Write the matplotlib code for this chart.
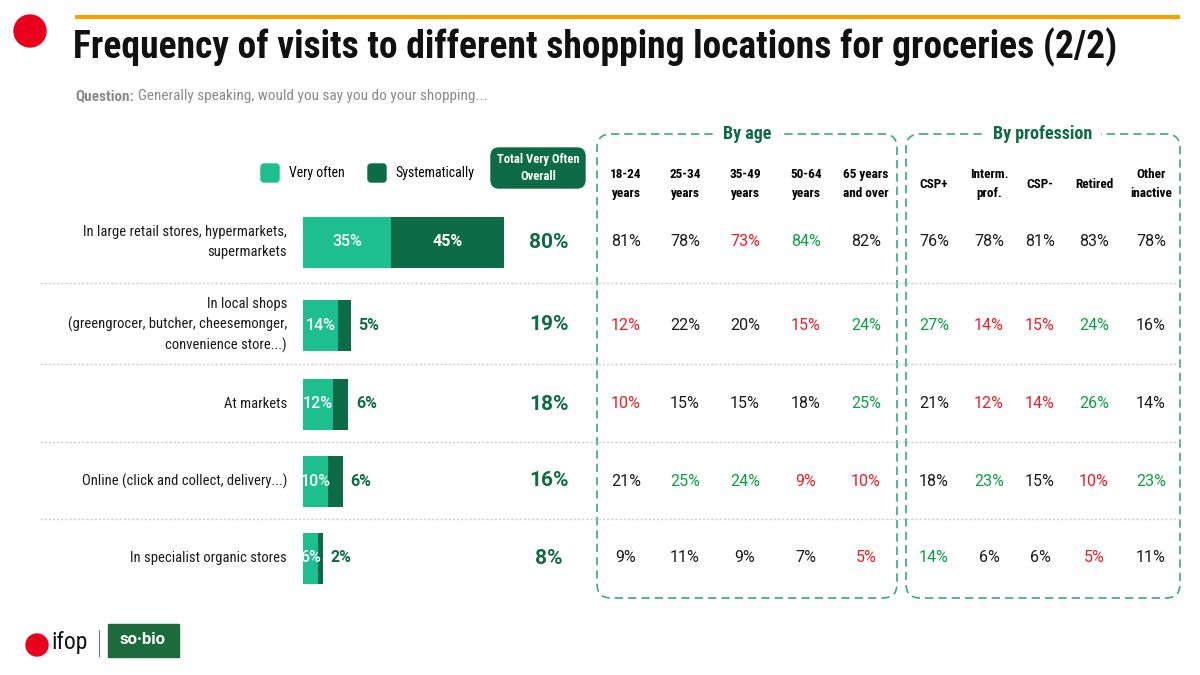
import matplotlib
matplotlib.use("Agg")
import matplotlib.pyplot as plt
from matplotlib.patches import FancyBboxPatch, Circle, Rectangle

# data
categories = [
    "In large retail stores, hypermarkets,\nsupermarkets",
    "In local shops\n(greengrocer, butcher, cheesemonger,\nconvenience store...)",
    "At markets",
    "Online (click and collect, delivery...)",
    "In specialist organic stores",
]
very_often = [35, 14, 12, 10, 6]
systematically = [45, 5, 6, 6, 2]
total_overall = [80, 19, 18, 16, 8]

age_labels = ["18-24\nyears", "25-34\nyears", "35-49\nyears", "50-64\nyears", "65 years\nand over"]
age_values = [
    [81, 78, 73, 84, 82],
    [12, 22, 20, 15, 24],
    [10, 15, 15, 18, 25],
    [21, 25, 24, 9, 10],
    [9, 11, 9, 7, 5],
]
age_signif = [
    ["", "", "-", "+", ""],
    ["-", "", "", "-", "+"],
    ["-", "", "", "", "+"],
    ["", "+", "+", "-", "-"],
    ["", "", "", "", "-"],
]
prof_labels = ["CSP+", "Interm.\nprof.", "CSP-", "Retired", "Other\ninactive"]
prof_values = [
    [76, 78, 81, 83, 78],
    [27, 14, 15, 24, 16],
    [21, 12, 14, 26, 14],
    [18, 23, 15, 10, 23],
    [14, 6, 6, 5, 11],
]
prof_signif = [
    ["", "", "", "", ""],
    ["+", "-", "-", "+", ""],
    ["", "-", "-", "+", ""],
    ["", "+", "", "-", "+"],
    ["+", "", "", "-", ""],
]

# style
LIGHT = "#1dbf8f"
DARK = "#0d6b47"
TXT_GREEN = "#0e6b44"
BOX_GREEN = "#3aa97f"
RED = "#ee1c25"
GREEN = "#08a045"
NARROW = ["Roboto Condensed", "DejaVu Sans"]
plt.rcParams["font.family"] = ["Roboto", "DejaVu Sans"]
sig_color = {"": "#1a1a1a", "+": GREEN, "-": RED}

W, H = 1200, 675
fig = plt.figure(figsize=(12, 6.75), dpi=100)
ax = fig.add_axes([0, 0, 1, 1])
ax.set_xlim(0, W)
ax.set_ylim(H, 0)
ax.axis("off")

row_y = [242, 325, 404, 481, 558]
sep_y = [283, 364, 442, 519]
age_x = [626, 685, 745, 806, 866]
prof_x = [934, 989, 1040, 1094, 1151]

# header
ax.add_patch(Circle((30, 31), 16, color="#e8001c"))
ax.plot([75, 1180], [17, 17], color="#f5a300", lw=3, solid_capstyle="butt")
ax.text(73, 47, "Frequency of visits to different shopping locations for groceries (2/2)",
        fontsize=27, fontweight="bold", family=NARROW, va="center", ha="left", color="#111111")
ax.text(75, 96, "Question:", fontsize=11, fontweight="bold", family=NARROW,
        color="#8a8a8a", va="center")
ax.text(138, 96, "Generally speaking, would you say you do your shopping...", fontsize=11,
        family=NARROW, color="#8a8a8a", va="center")

# legend
ax.add_patch(FancyBboxPatch((261, 164), 18, 18, boxstyle="round,pad=0,rounding_size=3",
                            color=LIGHT))
ax.text(289, 173, "Very often", fontsize=10, family=NARROW, va="center")
ax.add_patch(FancyBboxPatch((368, 164), 18, 18, boxstyle="round,pad=0,rounding_size=3",
                            color=DARK))
ax.text(395, 173, "Systematically", fontsize=10, family=NARROW, va="center")
ax.add_patch(FancyBboxPatch((491, 148), 94, 40, boxstyle="round,pad=0,rounding_size=8",
                            color=DARK))
ax.text(538, 168, "Total Very Often\nOverall", fontsize=9, fontweight="bold", family=NARROW,
        color="white", ha="center", va="center", linespacing=1.45)

# dashed group boxes
for x0, x1, title in [(597, 897, "By age"), (906, 1180, "By profession")]:
    ax.add_patch(FancyBboxPatch((x0, 134), x1 - x0, 464,
                                boxstyle="round,pad=0,rounding_size=14", fill=False,
                                ec=BOX_GREEN, lw=1.2, ls=(0, (5, 3))))
    ax.text((x0 + x1) / 2, 134, title, fontsize=13, fontweight="bold", family=NARROW,
            color=TXT_GREEN, ha="center", va="center",
            bbox=dict(fc="white", ec="none", pad=6))

for x, lab in zip(age_x, age_labels):
    ax.text(x, 184, lab, fontsize=9.5, fontweight="bold", family=NARROW,
            ha="center", va="center", linespacing=1.6)
for x, lab in zip(prof_x, prof_labels):
    ax.text(x, 184, lab, fontsize=9.5, fontweight="bold", family=NARROW,
            ha="center", va="center", linespacing=1.6)

# separators
for y in sep_y:
    ax.plot([40, 1180], [y, y], color="#cccccc", lw=1, ls=(0, (1.5, 1.5)))

# row labels, totals and table values
for i, y in enumerate(row_y):
    ax.text(287, y, categories[i], fontsize=10.5, family=NARROW, ha="right", va="center",
            linespacing=1.5, color="#1a1a1a")
    ax.text(549, y, f"{total_overall[i]}%", fontsize=15, fontweight="bold",
            color=TXT_GREEN, ha="center", va="center")
    for x, v, s in zip(age_x, age_values[i], age_signif[i]):
        ax.text(x, y, f"{v}%", fontsize=11.5, color=sig_color[s], ha="center", va="center")
    for x, v, s in zip(prof_x, prof_values[i], prof_signif[i]):
        ax.text(x, y, f"{v}%", fontsize=11.5, color=sig_color[s], ha="center", va="center")

# stacked bars in their own axes (x in %, y shares pixel rows)
bx = fig.add_axes([303 / W, 0, 201 / W, 1])
bx.set_xlim(0, 80)
bx.set_ylim(H, 0)
bx.axis("off")
bx.barh(row_y, very_often, height=51, color=LIGHT)
bx.barh(row_y, systematically, left=very_often, height=51, color=DARK)
for y, a, b in zip(row_y, very_often, systematically):
    bx.text(a / 2, y, f"{a}%", color="white", fontsize=11.5, fontweight="medium",
            ha="center", va="center")
    if b >= 10:
        bx.text(a + b / 2, y, f"{b}%", color="white", fontsize=11.5, fontweight="bold",
                ha="center", va="center")
    else:
        bx.text(a + b + 3, y, f"{b}%", color=TXT_GREEN, fontsize=11.5, fontweight="bold",
                ha="left", va="center")

# logos
ax.add_patch(Circle((37, 645), 11, color="#e8001c"))
ax.text(51, 642, "ifop", fontsize=17, family=NARROW, va="center", color="#111111")
ax.plot([99, 99], [630, 656], color="#777777", lw=0.8)
ax.add_patch(Rectangle((108, 624), 71, 33, color="#1d6b3c"))
ax.text(143, 640, "so\u00b7bio", fontsize=12, fontweight="bold", color="white",
        ha="center", va="center")

fig.savefig("out.png", dpi=100)
